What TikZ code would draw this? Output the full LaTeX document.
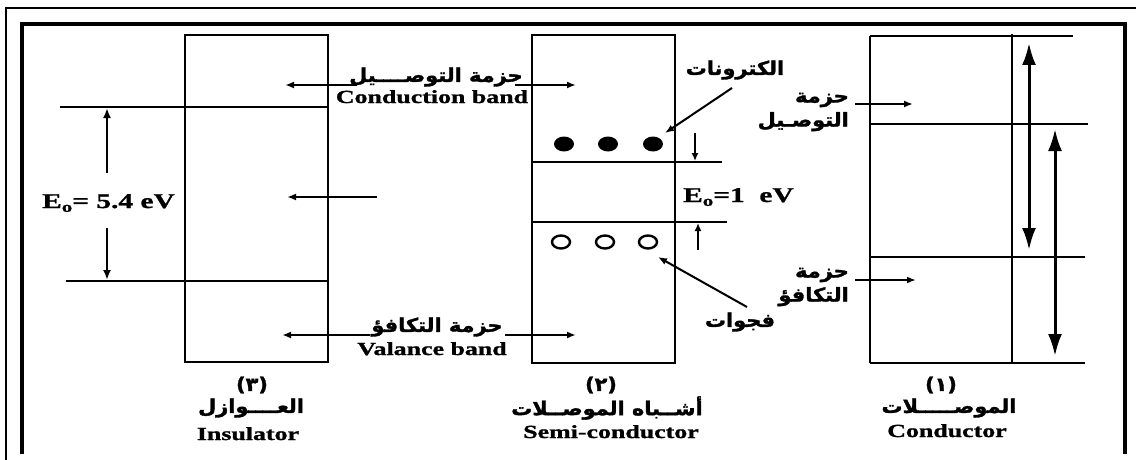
\documentclass[tikz,border=0pt]{standalone}
\usepackage{fontspec}
\usetikzlibrary{arrows.meta}
\TeXXeTstate=1
\setmainfont{Liberation Serif}[FakeStretch=1.4,FakeBold=1.2]
\newfontfamily\arfont[Script=Arabic,FakeStretch=1.1,FakeBold=1.6]{DejaVu Sans}
\tikzset{
  en/.style={font=\fontsize{18.5}{20}\selectfont\bfseries, inner sep=0pt},
  eg/.style={font=\fontsize{21}{23}\selectfont\bfseries, inner sep=0pt},
  ar/.style={font=\arfont\fontsize{19}{21}\selectfont\bfseries, inner sep=0pt},
  boxl/.style={line width=2.4pt},
  lvl/.style={line width=2.8pt},
  ptr/.style={line width=2pt, -{Latex[length=9pt,width=7pt]}},
  dimar/.style={line width=2.6pt, -{Latex[length=10pt,width=8pt]}},
  dbl/.style={line width=3pt, {Latex[length=22pt,width=14pt]}-{Latex[length=22pt,width=14pt]}},
}
\newcommand{\Eo}{E\raisebox{-0.4ex}{\fontsize{15}{16}\selectfont o}}
\begin{document}
\begin{tikzpicture}[x=1pt,y=-1pt,line join=miter]
\useasboundingbox (0,0) rectangle (1136,460);
% frames
\draw[line width=2pt] (6,460) -- (6,8) -- (1136,8);
\draw[line width=4.5pt] (22,454) -- (22,24) -- (1125,24) -- (1125,454);

% ---------- Insulator ----------
\draw[boxl] (185,35) rectangle (328,362);
\coordinate (iCL) at (60,107);  \coordinate (iCR) at (328,107);
\coordinate (iVL) at (66,281);  \coordinate (iVR) at (328,281);
\draw[lvl] (iCL) -- (iCR);
\draw[lvl] (iVL) -- (iVR);
\node[eg, anchor=base west] (Ei) at (42,208) {\Eo= 5.4 eV};
\coordinate (iA1s) at (107,173); \coordinate (iA1e) at (107,108);
\coordinate (iA2s) at (107,228); \coordinate (iA2e) at (107,280);
\draw[dimar] (iA1s) -- (iA1e);
\draw[dimar] (iA2s) -- (iA2e);
\coordinate (iM1) at (377,197); \coordinate (iM2) at (287,197);
\draw[ptr] (iM1) -- (iM2);

% band labels between insulator and semiconductor
\node[ar] (cbAr) at (436,77) {\beginR حزمة التوصــــيل\endR};
\node[en, anchor=base] (cbEn) at (432,103) {Conduction band};
\coordinate (cbL1) at (357,85); \coordinate (cbL2) at (285,85);
\coordinate (cbR1) at (515,85); \coordinate (cbR2) at (576,85);
\draw[ptr] (cbL1) -- (cbL2);
\draw[ptr] (cbR1) -- (cbR2);

\node[ar] (vbAr) at (437,327) {\beginR حزمة التكافؤ\endR};
\node[en, anchor=base] (vbEn) at (432,355) {Valance band};
\coordinate (vbL1) at (370,335); \coordinate (vbL2) at (282,335);
\coordinate (vbR1) at (505,335); \coordinate (vbR2) at (576,335);
\draw[ptr] (vbL1) -- (vbL2);
\draw[ptr] (vbR1) -- (vbR2);

% ---------- Semiconductor ----------
\draw[boxl] (532,35) rectangle (675,363);
\coordinate (sCL) at (532,162); \coordinate (sCR) at (722,162);
\coordinate (sVL) at (532,222); \coordinate (sVR) at (727,222);
\draw[lvl] (sCL) -- (sCR);
\draw[lvl] (sVL) -- (sVR);
\foreach \x/\n in {564/1,608/2,653/3}{
  \fill (\x,144) coordinate (e\n) ellipse [x radius=10pt, y radius=7.5pt];
}
\foreach \x/\n in {561/1,605/2,648/3}{
  \draw[line width=2.4pt] (\x,242) coordinate (h\n) ellipse [x radius=9pt, y radius=6.5pt];
}
\coordinate (sD1) at (695,133); \coordinate (sD2) at (695,161);
\coordinate (sU1) at (698,250); \coordinate (sU2) at (698,223);
\draw[line width=2pt, -{Latex[length=8pt,width=7pt]}] (sD1) -- (sD2);
\draw[line width=2pt, -{Latex[length=8pt,width=7pt]}] (sU1) -- (sU2);
\node[eg, anchor=base west] (Es) at (683,202) {\Eo=1\ \ eV};
\node[ar] (elAr) at (735,70) {\beginR الكترونات\endR};
\node[ar] (hoAr) at (740,322) {\beginR فجوات\endR};
\coordinate (elS) at (732,88); \coordinate (elE) at (665,133);
\coordinate (hoS) at (747,307); \coordinate (hoE) at (658,257);
\draw[ptr] (elS) -- (elE);
\draw[ptr] (hoS) -- (hoE);

% ---------- Conductor ----------
\draw[boxl] (870,36) -- (870,363);
\draw[boxl] (1012,34) -- (1012,363);
\draw[lvl] (870,36) -- (1073,36);
\draw[lvl] (870,363) -- (1085,363);
\draw[lvl] (870,124) -- (1088,124);
\draw[lvl] (870,257) -- (1085,257);
\coordinate (cA1) at (1029,43);  \coordinate (cA2) at (1029,250);
\coordinate (cB1) at (1055,129); \coordinate (cB2) at (1055,356);
\draw[dbl] (cA1) -- (cA2);
\draw[dbl] (cB1) -- (cB2);
\node[ar, align=right, anchor=east] (ccAr) at (849,112) {\beginR حزمة\endR\\[3pt]\beginR التوصـيل\endR};
\node[ar, align=right, anchor=east] (cvAr) at (849,287) {\beginR حزمة\endR\\[3pt]\beginR التكافؤ\endR};
\coordinate (ccS) at (855,104); \coordinate (ccE) at (913,104);
\coordinate (cvS) at (855,280); \coordinate (cvE) at (916,280);
\draw[ptr] (ccS) -- (ccE);
\draw[ptr] (cvS) -- (cvE);

% ---------- bottom captions ----------
\node[ar] (n3) at (252,385) {(٣)};
\node[ar] (iAr) at (251,408) {\beginR العــــوازل\endR};
\node[en, anchor=base] (iEn) at (248,440) {Insulator};
\node[ar] (n2) at (601,385) {(٢)};
\node[ar] (sAr) at (607,408) {\beginR أشــباه الموصــلات\endR};
\node[en, anchor=base] (sEn) at (611,438) {Semi-conductor};
\node[ar] (n1) at (941,385) {(١)};
\node[ar] (cAr) at (949,408) {\beginR الموصـــــلات\endR};
\node[en, anchor=base] (cEn) at (947,437) {Conductor};
\end{tikzpicture}
\end{document}
